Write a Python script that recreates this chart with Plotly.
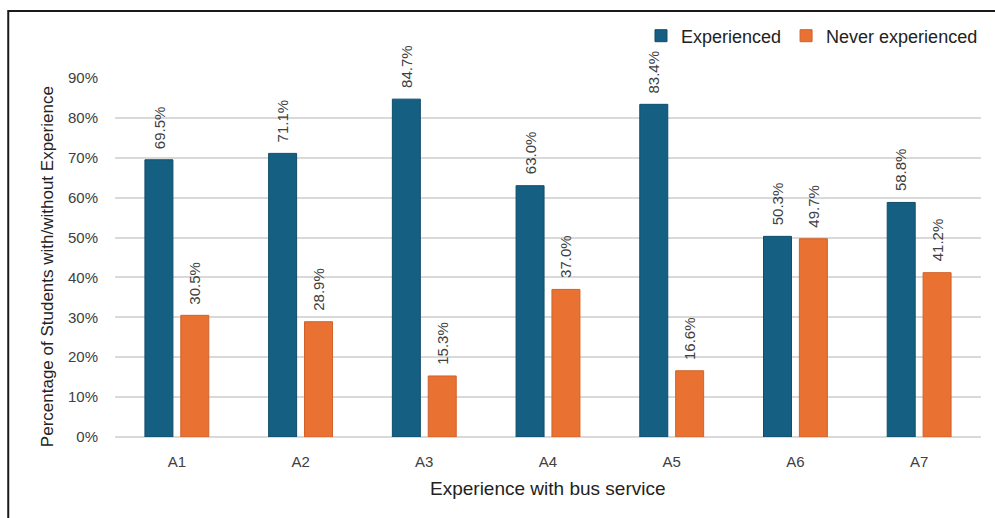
import plotly.graph_objects as go

categories = ["A1", "A2", "A3", "A4", "A5", "A6", "A7"]
experienced = [69.5, 71.1, 84.7, 63.0, 83.4, 50.3, 58.8]
never_experienced = [30.5, 28.9, 15.3, 37.0, 16.6, 49.7, 41.2]
y_ticks = [0, 10, 20, 30, 40, 50, 60, 70, 80, 90]

W, H = 995, 518
L, R, T, B = 115, 12, 78, 81
pw, ph = W - L - R, H - T - B

def px(x):
    return (x - L) / pw

def py(y):
    return (H - B - y) / ph

FONT = "Liberation Sans, Arial, sans-serif"
TXT = "#404040"

fig = go.Figure()
fig.add_trace(go.Bar(
    x=categories, y=experienced, name="Experienced",
    marker=dict(color="#156082", line=dict(color="#0f4d6b", width=1)),
))
fig.add_trace(go.Bar(
    x=categories, y=never_experienced, name="Never experienced",
    marker=dict(color="#E97132", line=dict(color="#d0622a", width=1)),
))

annotations = []
for series, shift in ((experienced, -18), (never_experienced, 18)):
    for c, v in zip(categories, series):
        annotations.append(dict(
            x=c, y=v, xref="x", yref="y", text=f"{v:.1f}%", textangle=-90,
            showarrow=False, xanchor="center", yanchor="bottom", xshift=shift, yshift=9,
            font=dict(size=15, color=TXT, family=FONT),
        ))

annotations += [
    dict(text="Percentage of Students with/without Experience", xref="paper", yref="paper",
         x=px(47), y=py(267), textangle=-90, showarrow=False,
         font=dict(size=17, color="#222222"), xanchor="center", yanchor="middle"),
    dict(text="Experience with bus service", xref="paper", yref="paper",
         x=px(549), y=py(488), showarrow=False,
         font=dict(size=19, color="#222222"), xanchor="center", yanchor="middle"),
]

fig.update_layout(
    width=W, height=H,
    margin=dict(l=L, r=R, t=T, b=B),
    paper_bgcolor="white", plot_bgcolor="white",
    barmode="group", bargap=0.42, bargroupgap=0.22,
    font=dict(family=FONT, color=TXT, size=14),
    showlegend=True,
    legend=dict(orientation="h", xanchor="right", x=px(985), yanchor="middle", y=py(36),
                font=dict(size=18, color="#222222"), itemwidth=30, traceorder="normal",
                bgcolor="rgba(0,0,0,0)"),
    xaxis=dict(showgrid=False, showline=False, ticks="", tickfont=dict(size=15, color=TXT),
               ticklabelstandoff=14),
    yaxis=dict(range=[0, 90], tickvals=y_ticks, ticktext=[f"{v}%" for v in y_ticks],
               showgrid=True, gridcolor="#D9D9D9", gridwidth=1.5, zeroline=True,
               zerolinecolor="#D9D9D9", zerolinewidth=2,
               tickfont=dict(size=15, color=TXT), ticks="", ticklabelstandoff=16),
    annotations=annotations,
    shapes=[
        dict(type="rect", xref="paper", yref="paper",
             x0=px(8), x1=px(1010), y0=py(540), y1=py(11),
             line=dict(color="#1a1a1a", width=2), fillcolor="rgba(0,0,0,0)", layer="below"),
    ],
)

fig.write_html("out.html")
